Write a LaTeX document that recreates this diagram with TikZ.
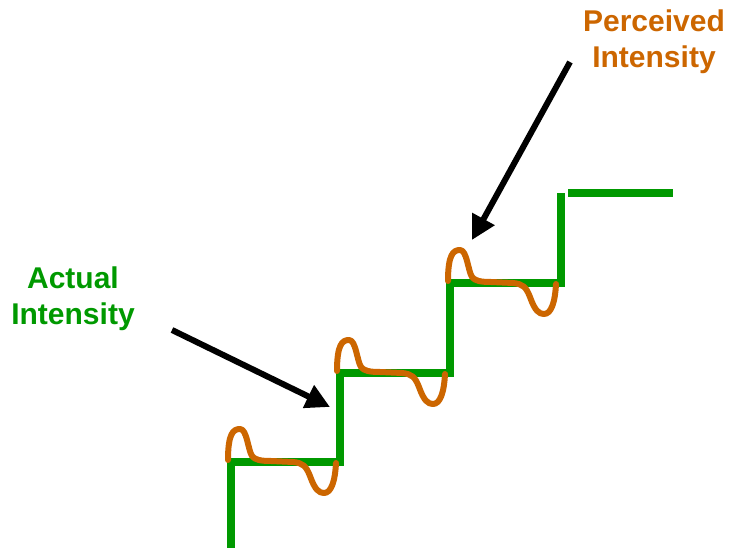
\documentclass[tikz,border=0pt]{standalone}
\usepackage{fontspec}
\setmainfont{Liberation Sans}
\usetikzlibrary{arrows.meta}
\definecolor{stepgreen}{RGB}{0,153,0}
\definecolor{waveorange}{RGB}{204,102,0}
\tikzset{
  stair/.style={draw=stepgreen, line width=8.5pt, line join=miter},
  wavepath/.style={draw=waveorange, line width=6pt, line cap=round, line join=round},
  pointer/.style={draw=black, line width=6pt, -{Triangle[length=24pt,width=24pt]}},
  label/.style={font=\fontsize{30}{36}\selectfont\bfseries, align=center, inner sep=0pt, anchor=north},
  wave/.pic={
    \draw[wavepath] (-3,2) .. controls (-3,28) and (2,33) .. (9,33)
      .. controls (16,33) and (17,12) .. (21,6)
      .. controls (24,2) and (30,1) .. (40,1) -- (62,0)
      .. controls (72,-1) and (75,-4) .. (79,-14)
      .. controls (84,-28) and (88,-31) .. (93,-31)
      .. controls (100,-31) and (104,-20) .. (105,-1);
  }
}
\begin{document}
\begin{tikzpicture}[x=1pt,y=1pt]
\useasboundingbox (0,0) rectangle (739,548);
% staircase
\coordinate (s0) at (231,0);
\coordinate (s1) at (231,86);
\coordinate (s2) at (340,86);
\coordinate (s3) at (340,175);
\coordinate (s4) at (450,175);
\coordinate (s5) at (450,265);
\coordinate (s6) at (561,265);
\coordinate (s7) at (561,355);
\coordinate (t0) at (568,355);
\coordinate (t1) at (673,355);
\draw[stair] (s0) -- (s1) -- (s2) -- (s3) -- (s4) -- (s5) -- (s6) -- (s7);
\draw[stair] (t0) -- (t1);
% perceived waves
\pic at (231,86) {wave};
\pic at (340,175) {wave};
\pic at (451,265) {wave};
% labels
\node[label, text=stepgreen] (actual) at (73,281) {Actual\\Intensity};
\node[label, text=waveorange] (perceived) at (654,538) {Perceived\\Intensity};
% arrows
\coordinate (a0) at (172,218);
\coordinate (a1) at (330,141);
\coordinate (p0) at (570,486);
\coordinate (p1) at (472,308);
\draw[pointer] (a0) -- (a1);
\draw[pointer] (p0) -- (p1);
\end{tikzpicture}
\end{document}
